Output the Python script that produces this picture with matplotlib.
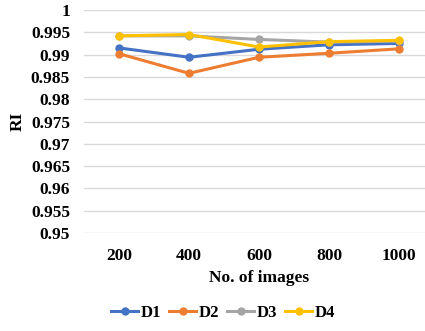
import matplotlib
matplotlib.use('Agg')
import matplotlib.pyplot as plt

images = ['200', '400', '600', '800', '1000']
d1 = [0.9915, 0.9894, 0.9912, 0.9922, 0.9925]
d2 = [0.9902, 0.9858, 0.9894, 0.9903, 0.9913]
d3 = [0.9942, 0.9942, 0.9934, 0.9928, 0.9930]
d4 = [0.9942, 0.9945, 0.9917, 0.9929, 0.9932]
yticks = [0.95, 0.955, 0.96, 0.965, 0.97, 0.975, 0.98, 0.985, 0.99, 0.995, 1]
ytick_labels = ['0.95', '0.955', '0.96', '0.965', '0.97', '0.975', '0.98', '0.985', '0.99', '0.995', '1']

plt.rcParams['font.family'] = ['Liberation Serif', 'DejaVu Serif']
plt.rcParams['font.weight'] = 'bold'

fig = plt.figure(figsize=(4.25, 3.31), dpi=100)
ax = fig.add_axes([84 / 425, 1 - 233 / 331, 350 / 425, 223 / 331])

x = range(len(images))
series = [('D1', d1, '#4472C4'), ('D2', d2, '#ED7D31'),
          ('D3', d3, '#A5A5A5'), ('D4', d4, '#FFC000')]
for name, vals, col in series:
    ax.plot(x, vals, color=col, lw=2.2, marker='o', ms=5, label=name)

ax.set_xlim(-0.5, 4.5)
ax.set_ylim(0.95, 1.0)
ax.set_yticks(yticks)
ax.set_yticklabels(ytick_labels)
ax.set_xticks(list(x))
ax.set_xticklabels(images)
ax.tick_params(length=0, labelsize=12.5)
ax.tick_params(axis='y', pad=10)
ax.tick_params(axis='x', pad=11)
ax.grid(axis='y', color='#D9D9D9', lw=1)
ax.set_axisbelow(True)
for s in ax.spines.values():
    s.set_visible(False)

ax.set_xlabel('No. of images', fontsize=12.5, fontweight='bold', labelpad=4)
ax.set_ylabel('RI', fontsize=12.5, fontweight='bold', labelpad=4)

fig.legend(loc='center', bbox_to_anchor=(0.525, 1 - 313 / 331), ncol=4, frameon=False,
           fontsize=12, handlelength=1.6, columnspacing=0.5, handletextpad=0.15)

fig.savefig('out.png', dpi=100)
